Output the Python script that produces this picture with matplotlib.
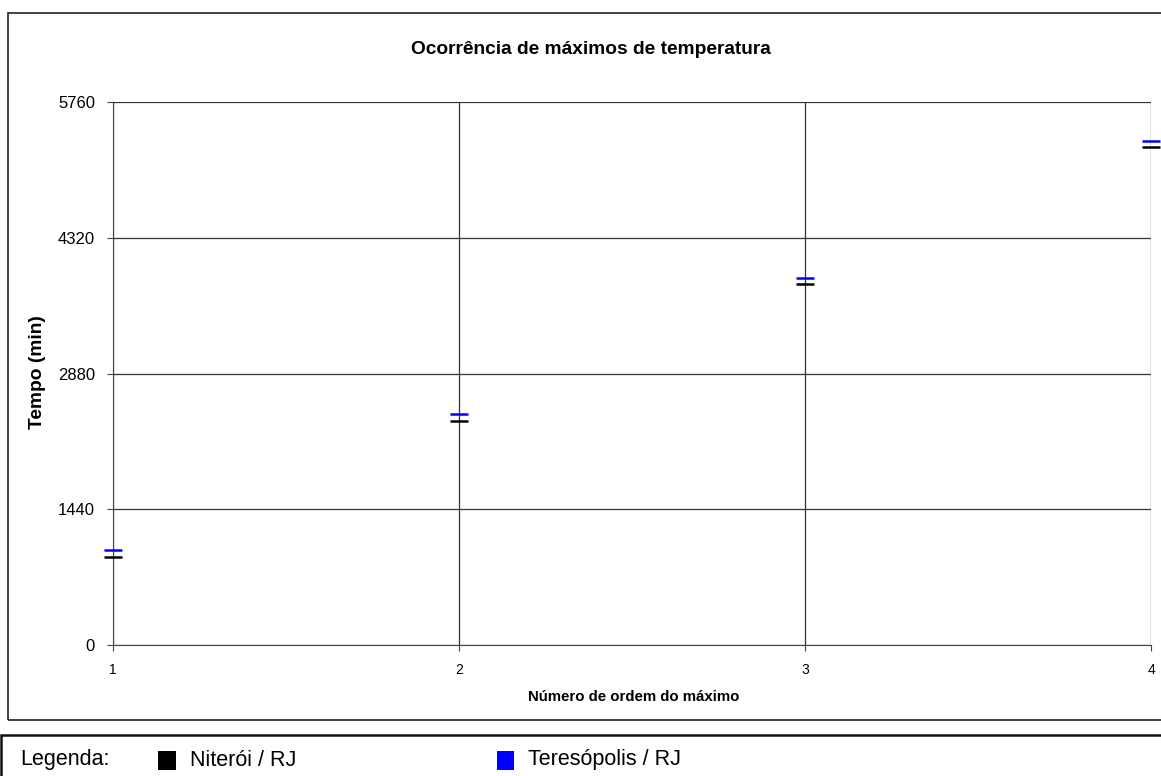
import matplotlib
matplotlib.use("Agg")
import matplotlib.pyplot as plt
from matplotlib.patches import Rectangle

plt.rcParams['font.family'] = ['Liberation Sans', 'DejaVu Sans']

ordem = [1, 2, 3, 4]
niteroi = [933, 2379, 3826, 5280]
teresopolis = [1008, 2450, 3890, 5350]
yticks = [0, 1440, 2880, 4320, 5760]

W, H = 1161, 776
fig = plt.figure(figsize=(W/100, H/100), dpi=100)

# outer chart border
fig.patches.append(Rectangle((8/W, 1 - 720/H), 1.2, (720-13)/H, transform=fig.transFigure,
                             fill=False, edgecolor='#222222', linewidth=1.2))
# legend border
fig.patches.append(Rectangle((1/W, -0.1), 1.2, 0.1 + (776-735)/H, transform=fig.transFigure,
                             fill=False, edgecolor='#111111', linewidth=1.8))

ax = fig.add_axes([113/W, 1 - 645/H, (1151-113)/W, (645-102)/H])
ax.set_xlim(1, 4)
ax.set_ylim(0, 5760)
ax.set_yticks(yticks)
ax.set_xticks(ordem)
ax.set_xticklabels([str(v) for v in ordem], fontsize=10)
ax.set_yticklabels([str(v) for v in yticks], fontsize=12)
for s in ['top', 'right']:
    ax.spines[s].set_visible(False)
ax.spines['left'].set_color('#444444')
ax.spines['bottom'].set_color('#444444')
ax.grid(True, axis='both', color='#333333', linewidth=0.9)
ax.tick_params(axis='y', length=4, color='#444444', pad=9)
ax.tick_params(axis='x', length=4, color='#444444', pad=9)

ax.plot(ordem, niteroi, linestyle='none', marker='_', markersize=13,
        markeredgewidth=1.8, color='black', clip_on=False, zorder=5)
ax.plot(ordem, teresopolis, linestyle='none', marker='_', markersize=13,
        markeredgewidth=1.8, color='#0000ff', clip_on=False, zorder=5)

fig.text(591/W, 1 - 50/H, 'Ocorrência de máximos de temperatura', ha='center', va='center',
         fontsize=13.8, fontweight='bold')
fig.text(634/W, 1 - 697/H, 'Número de ordem do máximo', ha='center', va='center',
         fontsize=10.8, fontweight='bold')
fig.text(37/W, 1 - 372/H, 'Tempo (min)', ha='center', va='center', rotation=90,
         fontsize=13.8, fontweight='bold')

# legend
fig.text(20/W, 1 - 760/H, 'Legenda:', ha='left', va='center', fontsize=15.5)
fig.patches.append(Rectangle((158/W, 1 - 770/H), 18/W, 19/H, transform=fig.transFigure,
                             facecolor='black', edgecolor='none'))
fig.text(190/W, 1 - 760/H, 'Niterói / RJ', ha='left', va='center', fontsize=15.5)
fig.patches.append(Rectangle((497/W, 1 - 770/H), 17/W, 19/H, transform=fig.transFigure,
                             facecolor='#0000ff', edgecolor='none'))
fig.text(528/W, 1 - 760/H, 'Teresópolis / RJ', ha='left', va='center', fontsize=15.5)

fig.savefig('out.png', dpi=100)
